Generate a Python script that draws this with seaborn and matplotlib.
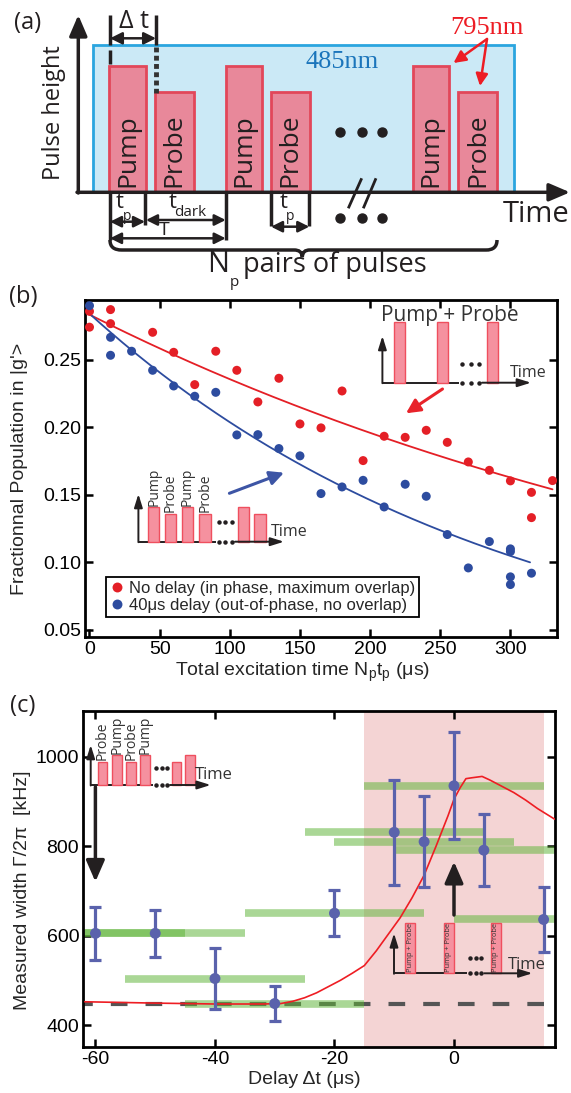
import numpy as np
import pandas as pd
import matplotlib
matplotlib.use("Agg")
import matplotlib.pyplot as plt
import seaborn as sns
from matplotlib.patches import Rectangle, PathPatch
from matplotlib.path import Path

# ---------------- data : panel (b) ----------------
b_red_t = [0, 0, 15, 15, 45, 60, 75, 90, 105, 120, 135, 150, 165, 180, 195,
           210, 225, 240, 255, 270, 285, 300, 315, 315, 330]
b_red_pop = [0.2857, 0.2740, 0.2870, 0.2766, 0.2702, 0.2554, 0.2315, 0.2562,
             0.2421, 0.2187, 0.2362, 0.2024, 0.1995, 0.2268, 0.1753, 0.1933,
             0.1925, 0.1977, 0.1888, 0.1743, 0.1681, 0.1603, 0.1518, 0.1331,
             0.1605]
b_blue_t = [0, 15, 15, 30, 45, 60, 75, 90, 105, 120, 135, 150, 165, 180, 195,
            210, 225, 240, 255, 270, 285, 300, 300, 300, 300, 315]
b_blue_pop = [0.2899, 0.2665, 0.2532, 0.2562, 0.2421, 0.2305, 0.2229, 0.2258,
              0.1943, 0.1945, 0.1842, 0.1788, 0.1509, 0.1558, 0.1607, 0.1410,
              0.1578, 0.1489, 0.1206, 0.0959, 0.1154, 0.1100, 0.1080, 0.0893,
              0.0836, 0.0920]
b_labels = ["No delay (in phase, maximum overlap)",
            "40\u03bcs delay (out-of-phase, no overlap)"]
# exponential fits  pop = amp * exp(-t / tau)
fit_amp = [0.2833, 0.2840]
fit_tau = [541.5, 300.9]
fit_tmax = [330, 314]
b_xticks = [0, 50, 100, 150, 200, 250, 300]
b_yticks = [0.05, 0.10, 0.15, 0.20, 0.25]

# ---------------- data : panel (c) ----------------
c_delay = [-60, -50, -40, -30, -20, -10, -5, 0, 5, 15]
c_width = [605, 605, 504, 448, 650, 831, 810, 935, 791, 636]
c_err = [60, 53, 68, 40, 51, 118, 102, 120, 81, 72]
c_pulse = 30                     # pulse duration shown by green bars
c_baseline = 447
c_overlap = (-15, 15)
c_model_delay = [-61.8, -50, -40, -32, -29, -27, -25, -23, -21, -19, -17, -15,
                 -13, -11, -9, -7, -5, -3, -1, 0, 1, 2, 3, 4.7, 6, 8, 10, 12,
                 14, 16.9]
c_model_width = [452, 449, 447, 447, 448, 453, 461, 472, 486, 500, 516, 533,
                 566, 603, 640, 685, 735, 800, 868, 905, 930, 951, 953, 956,
                 948, 934, 920, 903, 884, 860]
c_xticks = [-60, -40, -20, 0]
c_yticks = [400, 600, 800, 1000]

# ---------------- style ----------------
sns.set_theme(style="ticks")
plt.rcParams['font.family'] = ['Liberation Sans', 'DejaVu Sans']
plt.rcParams['mathtext.fontset'] = 'custom'
plt.rcParams['mathtext.rm'] = 'Liberation Sans'
plt.rcParams['mathtext.it'] = 'Liberation Sans:italic'
plt.rcParams['axes.unicode_minus'] = False

RED = '#e41f26'
BLUE = '#2d4c9f'
OS = ['Open Sans', 'DejaVu Sans']
SER = ['Liberation Serif', 'DejaVu Serif']
INK = '#231f20'

W, H = 571, 1093
fig = plt.figure(figsize=(W / 100, H / 100), dpi=100)


def box(l, t, r, b):
    return [l / W, 1 - b / H, (r - l) / W, (b - t) / H]


axb = fig.add_axes(box(85, 300, 557, 637))
axc = fig.add_axes(box(83.3, 710.7, 554.6, 1046.7))
ov = fig.add_axes([0, 0, 1, 1], zorder=10)
ov.set_xlim(0, W)
ov.set_ylim(H, 0)
ov.axis('off')
ov.patch.set_alpha(0)

# ---------------- panel (b) ----------------
df_b = pd.DataFrame({
    't': b_red_t + b_blue_t,
    'pop': b_red_pop + b_blue_pop,
    'series': [b_labels[0]] * len(b_red_t) + [b_labels[1]] * len(b_blue_t)})
sns.scatterplot(data=df_b, x='t', y='pop', hue='series', palette=[RED, BLUE],
                s=42, edgecolor='none', linewidth=0, ax=axb, zorder=3)
for amp, tau, tmax, col in zip(fit_amp, fit_tau, fit_tmax, [RED, BLUE]):
    tt = np.linspace(0, tmax, 200)
    sns.lineplot(x=tt, y=amp * np.exp(-tt / tau), color=col, lw=1.3, ax=axb,
                 zorder=2)
h, l = axb.get_legend_handles_labels()
leg = axb.legend(h[:2], l[:2], loc='lower left', bbox_to_anchor=(0.045, 0.06),
                 borderaxespad=0, frameon=True, fancybox=False,
                 edgecolor='black', framealpha=1, fontsize=12,
                 handlelength=0.8, handletextpad=0.35, borderpad=0.22,
                 labelspacing=0.15, markerscale=1.1)
leg.get_frame().set_linewidth(1.3)
axb.set_xlim(-3.2, 333.2)
axb.set_ylim(0.0448, 0.2941)
axb.set_xticks(b_xticks)
axb.set_yticks(b_yticks)
axb.set_yticklabels([f"{v:.2f}" for v in b_yticks])
axb.set_xlabel("Total excitation time N$_\\mathrm{p}$t$_\\mathrm{p}$ (\u03bcs)",
               fontsize=14)
axb.set_ylabel("Fractionnal Population in |g'>", fontsize=14)
axb.xaxis.set_label_coords(0.461, -0.071)
axb.yaxis.set_label_coords(-0.12, 0.5)

# ---------------- panel (c) ----------------
axc.axvspan(*c_overlap, color='#f4d4d4', lw=0, zorder=0)
axc.axhline(c_baseline, ls=(1.65, (4.0, 4.33)), lw=3, color='#555555', zorder=1)
cd = np.array(c_delay, dtype=float)
axc.hlines(c_width, cd - c_pulse / 2, cd + c_pulse / 2, colors='#5fb439',
           alpha=0.53, lw=5.5, zorder=2, capstyle='butt')
sns.lineplot(x=c_model_delay, y=c_model_width, sort=False, color='#ee1d23',
             lw=1.2, ax=axc, zorder=3)
axc.errorbar(c_delay, c_width, yerr=c_err, fmt='none', ecolor='#5a62ac',
             elinewidth=2.3, capsize=4.2, capthick=2.3, zorder=4)
sns.scatterplot(x=c_delay, y=c_width, color='#5a62ac', s=62, edgecolor='none',
                ax=axc, zorder=5)
axc.set_xlim(-62.04, 16.84)
axc.set_ylim(351.5, 1103)
axc.set_xticks(c_xticks)
axc.set_yticks(c_yticks)
axc.set_xlabel("Delay \u0394t (\u03bcs)", fontsize=14)
axc.set_ylabel("Measured width \u0393/2\u03c0  [kHz]", fontsize=14)
axc.xaxis.set_label_coords(0.470, -0.072)
axc.yaxis.set_label_coords(-0.111, 0.466)

for ax in (axb, axc):
    ax.tick_params(direction='in', top=True, right=True, length=6, width=1.8,
                   labelsize=14, colors='black', pad=3)
    for s in ax.spines.values():
        s.set_linewidth(2)
        s.set_color('black')
        s.set_visible(True)
    ax.set_facecolor('none')

# ---------------- helpers for drawings ----------------

def arrow(x1, y1, x2, y2, color=INK, lw=2.0, style='-|>', ms=14, hl=0.6,
          hw=0.3):
    ov.annotate('', xy=(x2, y2), xytext=(x1, y1),
                arrowprops=dict(arrowstyle=f'{style},head_length={hl},head_width={hw}',
                                color=color, lw=lw, shrinkA=0, shrinkB=0,
                                mutation_scale=ms))


def line(xs, ys, color=INK, lw=2.5, **kw):
    ov.plot(xs, ys, color=color, lw=lw, solid_capstyle='butt', **kw)


def rect(x, y, w, hh, fc, ec, lw=1.5, z=2):
    ov.add_patch(Rectangle((x, y), w, hh, fc=fc, ec=ec, lw=lw, zorder=z))


def txt(x, y, s, size, fam=OS, color=INK, ha='center', va='center', rot=0,
        **kw):
    ov.text(x, y, s, fontsize=size, family=fam, color=color, ha=ha, va=va,
            rotation=rot, zorder=6, **kw)


# ---------------- panel (a) drawing ----------------
txt(28, 23, "(a)", 17)
txt(23, 297, "(b)", 17)
txt(23, 706, "(c)", 17)

rect(92.7, 45.3, 514 - 92.7, 192.3 - 45.3, '#cbe9f6', '#2aa5df', lw=2, z=1)
PF, PE = '#e8889a', '#e2475a'
for xp in [109.3, 225.7, 412.7]:
    rect(xp, 65.7, 36.7, 192.3 - 65.7, PF, PE, lw=2)
    txt(xp + 18.3, 187, "Pump", 19, va='bottom', rot=90)
for xp in [155, 271, 458.3]:
    rect(xp, 92.3, 38.5, 192.3 - 92.3, PF, PE, lw=2)
    txt(xp + 19.2, 187, "Probe", 19, va='bottom', rot=90)

arrow(78.3, 193, 78.3, 15, lw=2.5, ms=18, hl=0.7, hw=0.3)
arrow(77, 192.3, 570, 192.3, lw=2.5, ms=18, hl=0.7, hw=0.3)
txt(53.5, 112.5, "Pulse height", 17, rot=90)
txt(536, 214, "Time", 21)
txt(342.5, 61.5, "485nm", 19, fam=SER, color='#1b75bb')
txt(486.7, 28.5, "795nm", 19, fam=SER, color='#ed1c24')
arrow(487, 39, 453.5, 63, color='#ed1c24', lw=1.8, ms=12)
arrow(487, 39, 480, 86, color='#ed1c24', lw=1.8, ms=12)

# delta t marker
line([110, 110], [15, 45])
line([110, 110], [50, 64])
line([156, 156], [15, 45])
line([156, 156], [47, 93], color='#333333', lw=3.5, ls=(0, (1.0, 0.7)))
arrow(110, 38.3, 156, 38.3, style='<|-|>', lw=1.8, ms=12)
txt(134, 22, "\u0394 t", 18)

# dots and break marks
for yy in (132.3, 218.3):
    ov.plot([340, 361.7, 381.7], [yy] * 3, 'o', ms=6.5, color=INK)
line([348.3, 361.7], [208.3, 178.3], lw=2)
line([363.3, 376.0], [208.3, 178.3], lw=2)

# timing marks below axis
for xv, y2 in [(110, 240), (145, 225), (225.7, 240), (271, 226), (309.3, 226)]:
    line([xv, xv], [193, y2])
arrow(110, 221.7, 145, 221.7, style='<|-|>', lw=1.8, ms=11)
arrow(146, 220, 225.7, 220, style='<|-|>', lw=1.8, ms=11)
arrow(110, 238.3, 225.7, 238.3, style='<|-|>', lw=1.8, ms=11)
arrow(271, 226.7, 309.3, 226.7, style='<|-|>', lw=1.8, ms=11)
txt(120, 202, "t", 16)
txt(127, 217, "p", 10)
txt(172.5, 202, "t", 16)
txt(190.5, 213, "dark", 11)
txt(164, 230, "T", 14)
txt(284, 202, "t", 16)
txt(290.5, 217, "p", 10)

# brace
verts = [(110, 240), (110, 247), (114, 250), (122, 250), (294, 250),
         (299, 250), (302, 252), (302.3, 257), (302.6, 252), (305, 250),
         (310, 250), (486, 250), (493, 250), (497, 247), (497, 240)]
codes = [Path.MOVETO, Path.CURVE4, Path.CURVE4, Path.CURVE4, Path.LINETO,
         Path.CURVE4, Path.CURVE4, Path.CURVE4, Path.CURVE4, Path.CURVE4,
         Path.CURVE4, Path.LINETO, Path.CURVE4, Path.CURVE4, Path.CURVE4]
ov.add_patch(PathPatch(Path(verts, codes), fc='none', ec=INK, lw=2.5))
txt(218, 264, "N", 21)
txt(234, 283, "p", 11)
txt(243, 265, "pairs of pulses", 19.5, ha='left')

# ---------------- inset helpers ----------------
IF, IE = '#f5919f', '#ef4f5e'


def mini_axes(x0, y0, ytop, xend, brk, yup, lw=1.4):
    arrow(x0, y0 + 0.5, x0, ytop, lw=lw, ms=10, hl=0.8, hw=0.25)
    line([x0, brk[0]], [y0, y0], lw=lw)
    arrow(brk[1], y0, xend, y0, lw=lw, ms=10, hl=0.8, hw=0.25)
    xs = np.linspace(brk[0] + 3, brk[1] - 3, 3)
    ov.plot(xs, [y0] * 3, 'o', ms=2.2, color=INK)
    ov.plot(xs, [yup] * 3, 'o', ms=2.2, color=INK)


# panel (b) top-right inset
mini_axes(382.4, 382.7, 336, 531, (459, 482), 364)
for xp in [394.4, 437.0, 486.9]:
    rect(xp, 322.3, 11, 382.7 - 322.3, IF, IE, lw=1)
txt(449.7, 315, "Pump + Probe", 15, color='#333333')
txt(528, 373, "Time", 11.5, color='#333333')
arrow(442.5, 389, 406, 413.3, color='#e8232a', lw=2.2, ms=14)

# panel (b) lower-left inset
mini_axes(138.4, 541.7, 494, 284, (215.6, 235), 521.7)
for xp, lab in zip([148.2, 182, 237.8], ["Pump", "Pump", None]):
    rect(xp, 507.3, 11, 541.7 - 507.3, IF, IE, lw=1)
    if lab:
        txt(xp + 5.5, 505.5, lab, 10, va='bottom', rot=90, color='#333333')
for xp, lab in zip([164.6, 199.2, 254.2], ["Probe", "Probe", None]):
    rect(xp, 514.3, 11.5, 541.7 - 514.3, IF, IE, lw=1)
    if lab:
        txt(xp + 5.7, 512.5, lab, 10, va='bottom', rot=90, color='#333333')
txt(289.5, 531.7, "Time", 11.5, color='#333333')
arrow(229.4, 493.3, 284, 472.7, color='#3d55a5', lw=2.2, ms=14)

# panel (c) top-left inset
mini_axes(90.7, 785, 745, 210.7, (153.3, 170), 768.3)
for xp, lab in zip([97.7, 126, 171.7], ["Probe", "Probe", None]):
    rect(xp, 761.7, 9.7, 785 - 761.7, IF, IE, lw=1)
    if lab:
        txt(xp + 4.8, 760, lab, 10, va='bottom', rot=90, color='#333333')
for xp, lab in zip([111.7, 140, 185.3], ["Pump", "Pump", None]):
    rect(xp, 755, 10, 785 - 755, IF, IE, lw=1)
    if lab:
        txt(xp + 5, 753.5, lab, 10, va='bottom', rot=90, color='#333333')
txt(213.5, 775, "Time", 12, color='#333333')
arrow(95.4, 787, 95.4, 881.7, lw=2.5, ms=16, hl=0.8, hw=0.35)

# panel (c) bottom-right inset
mini_axes(394, 973.3, 933.3, 532.4, (466.8, 484.3), 958.3)
for xp in [405, 444, 490.7]:
    rect(xp, 922.7, 10, 973.3 - 922.7, IF, IE, lw=1)
    txt(xp + 5, 948, "Pump + Probe", 5.3, rot=90, color='#333333')
txt(526.7, 965, "Time", 12, color='#333333')
arrow(454, 915, 454, 861.7, lw=2.5, ms=16, hl=0.8, hw=0.35)

fig.savefig("out.png", dpi=100)
